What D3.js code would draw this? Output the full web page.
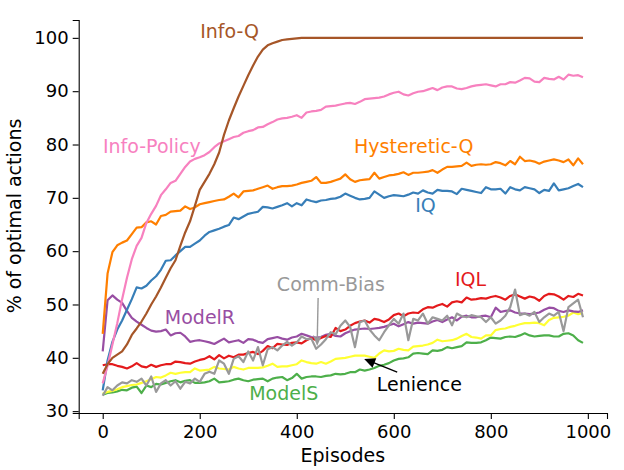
<!DOCTYPE html>
<html>
<head>
<meta charset="utf-8">
<script src="https://cdn.jsdelivr.net/npm/d3@7/dist/d3.min.js"></script>
<style>
  body { margin: 0; background: #fff; }
  svg text { font-family: "DejaVu Sans", sans-serif; }
</style>
</head>
<body>
<div id="chart"></div>
<script>
// episodes 0..990, one point every 10
var episodes = d3.range(0, 1000, 10);
var xTicks = [0, 200, 400, 600, 800, 1000];
var yTicks = [30, 40, 50, 60, 70, 80, 90, 100];

var infoQ = [37.0,38.8,40.0,40.6,41.2,42.5,44.3,45.5,46.8,48.3,50.0,51.5,53.2,55.0,56.8,58.3,61.0,63.5,65.6,68.5,
  71.5,73.0,74.5,76.3,78.5,81.8,84.5,86.8,89.0,91.0,93.0,94.8,96.5,97.8,98.6,99.0,99.3,99.6,99.7,99.8,
  99.9,100,100,100,100,100,100,100,100,100,100,100,100,100,100,100,100,100,100,100,
  100,100,100,100,100,100,100,100,100,100,100,100,100,100,100,100,100,100,100,100,
  100,100,100,100,100,100,100,100,100,100,100,100,100,100,100,100,100,100,100,100];

var infoPolicy = [35.2,38.5,42.5,46.5,51.0,55.0,58.5,61.0,62.5,65.3,67.0,68.5,70.5,71.6,72.8,73.2,74.5,75.8,76.8,77.3,
  77.6,78.0,78.6,79.5,80.2,80.6,81.0,81.4,81.6,82.2,82.5,82.7,83.2,83.3,83.8,84.2,84.7,84.9,85.0,85.2,
  85.5,85.0,86.0,86.2,86.3,86.5,87.1,87.2,87.3,87.5,87.7,87.8,87.6,88.0,88.5,88.6,88.7,88.8,89.0,89.4,
  89.7,89.9,89.4,89.2,89.6,89.9,90.0,90.3,90.6,90.2,90.7,90.9,90.9,90.5,90.4,90.6,90.9,91.1,91.2,91.3,
  91.1,90.9,91.3,91.3,91.7,91.6,92.0,92.5,92.4,91.8,91.7,92.5,92.3,92.2,92.7,92.2,93.1,92.9,93.0,92.6];

var hystereticQ = [44.5,55.8,59.8,61.1,61.6,62.0,63.2,64.4,64.5,65.4,65.6,65.0,66.6,66.8,67.4,67.5,67.6,68.4,67.9,68.2,
  68.8,69.0,69.2,69.4,69.6,69.7,70.2,70.8,70.1,71.2,71.3,71.4,71.7,72.0,72.3,71.7,72.0,72.2,72.2,72.3,
  72.5,72.8,73.0,73.2,73.9,72.8,72.8,73.0,73.3,73.6,74.4,73.5,73.0,73.3,73.4,73.5,74.7,73.6,73.9,74.2,
  74.3,74.5,74.8,74.3,74.7,74.7,74.8,74.9,75.2,74.7,75.3,75.8,75.8,75.9,76.0,76.6,76.0,76.2,76.3,76.2,
  76.3,76.7,76.5,76.1,76.9,76.3,77.7,76.9,77.0,76.8,76.4,76.8,77.0,77.2,77.0,76.7,77.2,76.1,77.4,76.3];

var iq = [33.9,39.5,43.0,45.3,47.0,49.0,51.0,53.2,53.0,53.5,54.5,55.3,56.5,58.2,58.3,59.2,60.0,60.8,60.8,61.4,
  62.0,62.9,63.6,63.9,64.2,64.6,64.9,66.3,66.0,66.5,67.0,67.2,67.4,68.3,68.2,68.0,68.3,68.6,69.0,68.4,
  69.0,68.6,69.7,69.4,69.2,69.5,69.6,69.8,69.9,70.2,70.8,70.4,70.0,69.7,69.8,70.0,71.2,70.6,70.0,70.3,
  70.5,70.4,70.3,70.6,71.0,70.8,71.4,71.0,70.8,71.5,71.3,71.3,71.2,70.7,71.7,71.5,71.3,71.1,70.9,72.0,
  71.6,71.6,71.7,70.8,72.0,71.6,71.4,72.0,71.8,71.6,70.9,71.5,71.3,72.7,71.4,71.6,71.8,72.2,72.6,72.0];

var iql = [38.6,38.8,38.8,38.5,38.3,38.0,38.4,39.0,38.4,38.2,38.7,38.3,38.6,38.8,38.8,39.3,39.2,39.0,38.9,39.3,
  39.6,39.8,40.3,39.7,40.5,39.9,40.4,40.1,40.6,40.6,40.9,41.1,40.7,41.3,42.2,41.8,42.6,42.5,42.4,42.8,
  42.9,42.7,43.3,43.7,43.3,43.7,44.1,43.9,45.6,45.0,45.3,46.0,46.5,46.8,47.0,46.6,47.3,47.1,46.7,47.2,
  48.0,48.3,47.8,48.3,48.5,48.4,49.1,49.5,49.4,49.8,50.1,49.6,50.4,50.6,50.4,51.3,50.9,51.0,51.2,51.1,
  51.4,51.6,51.3,50.9,51.6,51.9,51.5,51.1,51.5,51.3,50.7,51.6,52.0,51.9,51.5,50.9,51.6,51.4,52.0,51.7];

var modelR = [41.2,50.8,51.7,50.9,50.3,48.8,47.5,46.8,46.2,45.6,45.1,44.9,45.0,45.3,44.2,44.6,44.7,44.0,43.0,43.2,
  43.3,43.1,42.9,42.6,43.1,43.6,42.9,43.1,43.3,42.8,43.5,43.4,43.0,42.8,43.5,43.7,43.9,43.6,43.4,43.8,
  44.0,44.5,44.2,43.9,43.8,43.9,44.3,44.5,44.1,44.0,44.6,45.0,45.3,45.4,45.5,45.4,45.5,45.6,45.8,46.1,
  46.4,45.9,46.3,46.7,46.4,46.6,46.5,46.4,46.8,47.1,46.7,47.2,47.6,47.0,47.7,47.9,47.6,47.6,47.8,47.9,
  47.6,49.4,48.6,48.8,48.9,48.5,48.3,48.3,48.2,48.3,48.5,49.0,49.4,49.3,48.8,48.6,48.9,48.7,48.6,48.9];

var lenience = [33.3,33.6,33.8,34.1,34.5,34.7,34.9,35.0,35.3,35.6,36.0,36.4,36.3,36.7,37.2,37.0,37.2,37.3,37.3,38.0,
  37.6,37.7,37.8,38.3,38.0,37.9,37.8,38.3,38.0,37.8,38.1,38.1,38.1,38.2,38.5,38.9,38.3,38.4,38.4,38.6,
  38.8,39.5,39.2,39.0,38.9,39.2,38.9,39.3,39.8,39.9,40.0,40.2,40.4,40.4,40.4,40.2,40.0,40.8,41.4,41.2,
  41.3,41.7,41.5,41.4,42.1,42.2,42.3,42.5,42.8,43.4,43.1,43.2,43.3,43.6,44.1,44.5,43.9,43.8,43.6,44.2,
  44.2,45.2,45.4,45.5,45.8,46.0,46.3,46.5,46.5,46.6,46.5,46.1,47.1,47.5,47.6,47.7,47.9,48.5,48.2,48.4];

var modelS = [33.1,33.4,33.5,33.7,34.0,33.9,34.4,34.6,33.4,34.8,34.5,35.1,35.0,35.3,35.6,35.8,35.4,35.7,35.8,35.3,
  35.3,35.4,35.6,36.1,35.4,35.5,35.6,35.9,36.1,35.8,35.6,35.9,36.0,36.1,35.6,36.1,36.3,36.4,35.8,36.2,
  37.0,36.1,36.4,36.5,36.5,36.4,36.6,36.7,37.0,36.9,37.0,37.3,37.3,37.8,37.6,37.8,38.1,38.5,38.7,39.0,
  39.5,39.8,39.9,40.1,40.8,40.9,40.8,40.7,41.4,41.3,41.5,42.0,41.8,42.0,42.2,42.9,42.8,42.8,42.9,43.3,
  43.8,43.7,43.6,43.9,44.0,43.9,44.2,44.6,44.2,44.0,44.1,44.2,44.2,44.0,44.0,44.5,44.6,44.2,43.3,42.8];

var commBias = [32.9,34.5,33.9,34.8,35.4,35.2,35.8,35.5,36.1,34.8,36.5,33.6,35.2,35.8,34.8,35.6,34.2,35.5,35.2,36.1,
  35.5,37.0,37.4,37.0,39.5,38.9,37.0,39.8,40.3,39.2,41.2,39.5,42.0,38.6,41.6,42.0,41.4,42.3,43.0,42.3,
  42.9,44.0,43.5,43.6,41.7,42.5,43.5,44.8,44.4,46.0,47.0,45.8,42.0,46.7,47.0,45.3,44.2,43.3,44.8,46.1,
  47.3,46.4,48.3,43.3,47.3,47.0,48.3,46.4,47.6,47.3,47.0,47.9,46.1,48.3,47.8,47.6,48.0,47.8,47.6,46.7,
  47.6,46.4,47.0,47.9,49.5,52.8,48.0,48.3,47.9,48.6,46.7,47.6,48.3,47.9,48.6,45.0,49.5,50.2,50.9,47.6];

// drawing order (last on top) and Set1 colours
var seriesNames = ['ModelS', 'Lenience', 'ModelR', 'IQL', 'IQ', 'Hysteretic-Q', 'Info-Policy', 'Info-Q', 'Comm-Bias'];
var seriesValues = [modelS, lenience, modelR, iql, iq, hystereticQ, infoPolicy, infoQ, commBias];
var seriesColors = ['#4daf4a', '#ffff33', '#984ea3', '#e41a1c', '#377eb8', '#ff7f00', '#f781bf', '#a65628', '#999999'];

var chart_width = 624;
var chart_height = 470;

var svg = d3.select('#chart')
    .append('svg')
    .attr('width', chart_width)
    .attr('height', chart_height);

var x = d3.scaleLinear().domain([-49.5, 1039.5]).range([78.7, 607]);
var y = d3.scaleLinear().domain([29.65, 103.35]).range([413, 20]);

// lines
var line = d3.line()
    .x(function(d, i){ return x(episodes[i]); })
    .y(function(d){ return y(d); });

svg.selectAll('path.series')
    .data(seriesValues)
    .enter()
    .append('path')
    .attr('class', 'series')
    .attr('d', line)
    .attr('fill', 'none')
    .attr('stroke', function(d, i){ return seriesColors[i]; })
    .attr('stroke-width', 2.2)
    .attr('stroke-linejoin', 'round');

// axes
var xAxis = svg.append('g')
    .attr('transform', 'translate(0,413)')
    .call(d3.axisBottom(x).tickValues(xTicks).tickFormat(d3.format('d'))
        .tickSizeOuter(0).tickSize(6).tickPadding(6));
var yAxis = svg.append('g')
    .attr('transform', 'translate(78.7,0)')
    .call(d3.axisLeft(y).tickValues(yTicks).tickFormat(d3.format('d'))
        .tickSizeOuter(0).tickSize(6).tickPadding(4));

[xAxis, yAxis].forEach(function(g){
    g.selectAll('text').attr('font-size', 18).attr('fill', '#000').attr('font-family', '"DejaVu Sans", sans-serif');
    g.selectAll('line').attr('stroke', '#000').attr('stroke-width', 1.1);
    g.select('.domain').attr('stroke', '#000').attr('stroke-width', 1.1);
});

svg.append('text')
    .attr('x', 342.8)
    .attr('y', 462)
    .attr('text-anchor', 'middle')
    .attr('font-size', 19)
    .text('Episodes');

svg.append('text')
    .attr('transform', 'translate(21,216) rotate(-90)')
    .attr('text-anchor', 'middle')
    .attr('font-size', 19)
    .text('% of optimal actions');

// series labels
var labelNames = ['Info-Q', 'Info-Policy', 'Hysteretic-Q', 'IQ', 'IQL', 'Comm-Bias', 'ModelR', 'ModelS', 'Lenience'];
var labelEpisode = [201, 0.5, 518, 644, 726, 359, 128, 302, 565];
var labelValue = [100, 78.4, 78.4, 67.3, 53.5, 52.6, 46.3, 32.1, 33.8];
var labelColors = ['#a65628', '#f781bf', '#ff7f00', '#377eb8', '#e41a1c', '#999999', '#984ea3', '#4daf4a', '#000000'];

svg.selectAll('text.label')
    .data(labelNames)
    .enter()
    .append('text')
    .attr('class', 'label')
    .attr('x', function(d, i){ return x(labelEpisode[i]); })
    .attr('y', function(d, i){ return y(labelValue[i]); })
    .attr('font-size', 19)
    .attr('fill', function(d, i){ return labelColors[i]; })
    .text(function(d){ return d; });

// annotation arrows
function arrow(e0, v0, e1, v1, color, head){
    var x0 = x(e0), y0 = y(v0), x1 = x(e1), y1 = y(v1);
    var ang = Math.atan2(y1 - y0, x1 - x0) * 180 / Math.PI;
    var len = Math.hypot(x1 - x0, y1 - y0);
    var g = svg.append('g')
        .attr('transform', 'translate(' + x1 + ',' + y1 + ') rotate(' + ang + ')');
    g.append('line')
        .attr('x1', -len).attr('y1', 0)
        .attr('x2', -4).attr('y2', 0)
        .attr('stroke', color)
        .attr('stroke-width', 1.4);
    g.append('path')
        .attr('d', head)
        .attr('fill', color);
}
arrow(444, 51.2, 442, 42.2, '#999999', 'M0,0 L-11,-4.5 L-8,0 L-11,4.5 Z');
arrow(607, 37.3, 539, 39.8, '#000000', 'M0,0 L-11,-5 L-11,5 Z');
</script>
</body>
</html>
